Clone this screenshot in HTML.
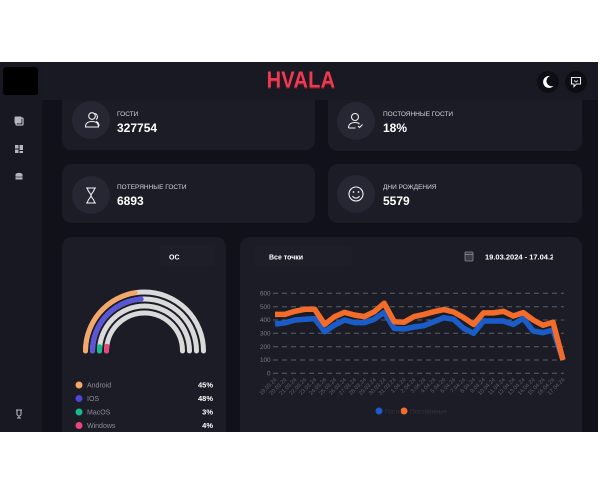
<!DOCTYPE html>
<html><head><meta charset="utf-8"><style>
html,body{margin:0;padding:0;background:#fff;width:600px;height:482px;overflow:hidden}
svg{display:block}
text{font-family:"Liberation Sans","Noto Sans CJK SC",sans-serif}
</style></head><body>
<svg width="600" height="482" viewBox="0 0 600 482" xmlns="http://www.w3.org/2000/svg">
<defs><clipPath id="dash"><rect x="0" y="62" width="598" height="370"/></clipPath></defs>
<rect x="0" y="0" width="600" height="482" fill="#ffffff"/>
<g clip-path="url(#dash)">
<rect x="0" y="62" width="598" height="370" fill="#111219"/>
<!-- cards -->
<rect x="62" y="86" width="253" height="64" rx="10" fill="#1b1c26"/>
<rect x="328" y="86" width="254" height="65" rx="10" fill="#1b1c26"/>
<rect x="62" y="164" width="253" height="59" rx="10" fill="#1b1c26"/>
<rect x="328" y="164" width="254" height="59" rx="10" fill="#1b1c26"/>
<rect x="62" y="237" width="164" height="210" rx="10" fill="#1b1c26"/>
<rect x="240" y="237" width="342" height="210" rx="10" fill="#1b1c26"/>
<!-- header & sidebar -->
<rect x="0" y="62" width="598" height="38" fill="#181922"/>
<rect x="0" y="62" width="42" height="370" fill="#171821"/>
<rect x="3" y="67" width="35" height="28" rx="3" fill="#000"/>
<text x="301" y="87" text-anchor="middle" font-size="20" font-weight="bold" fill="#5a1822" transform="translate(0,-13) scale(1,1.17)" letter-spacing="0.3">HVALA</text>
<text x="301" y="86" text-anchor="middle" font-size="20" font-weight="bold" fill="#ee3a50" transform="translate(0,-13) scale(1,1.17)" letter-spacing="0.3">HVALA</text>
<circle cx="548" cy="82" r="11" fill="#0d0e14"/>
<path d="M550 76 A6 6 0 1 0 553.5 86 A5 5 0 0 1 550 76 Z" fill="#ffffff"/>
<circle cx="576" cy="82" r="11" fill="#0d0e14"/>
<path d="M571.5 77.5 h9 v6.5 h-4 l-2.5 2.5 v-2.5 h-2.5 z" fill="none" stroke="#e8e8ee" stroke-width="1.1"/>
<path d="M574 80.5 l2 1.5 l2-1.5" fill="none" stroke="#e8e8ee" stroke-width="0.9"/>
<!-- sidebar icons -->
<rect x="16" y="118" width="7" height="7" rx="1" fill="none" stroke="#b4b5bd" stroke-width="1.3"/>
<rect x="14.5" y="116.5" width="7" height="7" rx="1" fill="#b4b5bd"/>
<rect x="15" y="145" width="3.5" height="3.5" fill="#b4b5bd"/><rect x="19.5" y="145" width="3.5" height="5" fill="#b4b5bd"/>
<rect x="15" y="149.5" width="3.5" height="3.5" fill="#b4b5bd"/><rect x="19.5" y="151" width="3.5" height="2" fill="#b4b5bd"/>
<ellipse cx="19" cy="174.5" rx="3.5" ry="1.6" fill="#b4b5bd"/><rect x="15.5" y="174.5" width="7" height="5" fill="#b4b5bd"/>
<line x1="15.5" y1="177" x2="22.5" y2="177" stroke="#171821" stroke-width="0.6"/>
<path d="M16 410 h6 M17 410 v4 a2 2 0 0 0 4 0 v-4 M19 416 v2 M17 418 h4" fill="none" stroke="#b4b5bd" stroke-width="1.1"/>
<!-- stat icons -->
<circle cx="91" cy="120" r="19" fill="#262733"/>
<circle cx="356" cy="121" r="19" fill="#262733"/>
<circle cx="91" cy="195" r="19" fill="#262733"/>
<circle cx="356" cy="194" r="19" fill="#262733"/>
<g fill="none" stroke="#f0f0f4" stroke-width="1.1">
<circle cx="92" cy="116" r="3.3"/><path d="M85.5 127 c0-4 3-5.5 6.5-5.5 s6.5 1.5 6.5 5.5 z"/>
<path d="M94 113.5 a3.3 3.3 0 0 1 2 6 M96 121.5 c2 .5 3 2 3 4.5"/>
<circle cx="355" cy="117" r="3.5"/><path d="M348.5 128 c0-4 3-5.5 6.5-5.5 c2 0 3.5 .5 4.5 1.5 M348.5 128 h7"/>
<path d="M358 126 l1.5 1.5 l3-3"/>
<path d="M86 188 h10 M86 203 h10 M87.5 188 c0 4 3.5 5 3.5 7.5 c0 2.5-3.5 3.5-3.5 7.5 M94.5 188 c0 4-3.5 5-3.5 7.5 c0 2.5 3.5 3.5 3.5 7.5"/>
<circle cx="356" cy="194" r="7"/><path d="M352.5 196 a4 4 0 0 0 7 0"/>
</g>
<circle cx="353.5" cy="192" r="0.9" fill="#f0f0f4"/><circle cx="358.5" cy="192" r="0.9" fill="#f0f0f4"/>
<!-- stat text -->
<g fill="#d4d4dc" font-size="6.5">
<text x="117" y="116">ГОСТИ</text>
<text x="383" y="116">ПОСТОЯННЫЕ ГОСТИ</text>
<text x="117" y="189">ПОТЕРЯННЫЕ ГОСТИ</text>
<text x="383" y="189">ДНИ РОЖДЕНИЯ</text>
</g>
<g fill="#ffffff" font-size="12" font-weight="bold">
<text x="117" y="132">327754</text>
<text x="383" y="132">18%</text>
<text x="117" y="205">6893</text>
<text x="383" y="205">5579</text>
</g>
<!-- OS card -->
<rect x="160" y="245" width="55" height="21" rx="3" fill="#1d1e28"/>
<text x="169" y="259.5" font-size="7" font-weight="bold" fill="#ffffff">ОС</text>
<g fill="none" stroke-width="5" stroke-linecap="round">
<path d="M85.5 351 A59 59 0 0 1 203.5 351" stroke="#dadada"/>
<path d="M92.5 351 A52 52 0 0 1 196.5 351" stroke="#dadada"/>
<path d="M99.5 351 A45 45 0 0 1 189.5 351" stroke="#dadada"/>
<path d="M106.5 351 A38 38 0 0 1 182.5 351" stroke="#dadada"/>
<path d="M85.5 351 A59 59 0 0 1 135.3 292.7" stroke="#f4a766"/>
<path d="M92.5 351 A52 52 0 0 1 141.2 299.1" stroke="#5a56d8"/>
<path d="M99.5 351 A45 45 0 0 1 99.7 346.8" stroke="#19b98a"/>
<path d="M106.5 351 A38 38 0 0 1 106.8 346.2" stroke="#e8477c"/>
</g>
<circle cx="79" cy="385" r="3.5" fill="#f4a766"/>
<circle cx="79" cy="398.5" r="3.5" fill="#4d46d8"/>
<circle cx="79" cy="412" r="3.5" fill="#19b98a"/>
<circle cx="79" cy="425.5" r="3.5" fill="#e8477c"/>
<g font-size="7" fill="#8d8e9a">
<text x="87" y="387.5">Android</text>
<text x="87" y="401">IOS</text>
<text x="87" y="414.5">MacOS</text>
<text x="87" y="428">Windows</text>
</g>
<g font-size="7.5" font-weight="bold" fill="#ffffff" text-anchor="end">
<text x="213" y="387.5">45%</text>
<text x="213" y="401">48%</text>
<text x="213" y="414.5">3%</text>
<text x="213" y="428">4%</text>
</g>
<!-- chart card header -->
<rect x="255" y="246" width="97" height="20" rx="3" fill="#1d1e28"/>
<text x="269" y="259.5" font-size="7" font-weight="bold" fill="#ffffff">Все точки</text>
<rect x="465" y="252" width="8" height="9" rx="1" fill="#3a3b46" stroke="#8a8b96" stroke-width="0.8"/>
<line x1="465" y1="254.5" x2="473" y2="254.5" stroke="#8a8b96" stroke-width="0.8"/>
<svg x="480" y="250" width="73" height="14"><text x="5" y="9.5" font-size="7.5" font-weight="bold" fill="#ffffff">19.03.2024 - 17.04.2024</text></svg>
<!-- grid -->
<g stroke="#5b5c68" stroke-width="1" stroke-dasharray="5 4">
<line x1="273" y1="293.3" x2="564" y2="293.3"/>
<line x1="273" y1="306.7" x2="564" y2="306.7"/>
<line x1="273" y1="320" x2="564" y2="320"/>
<line x1="273" y1="333.3" x2="564" y2="333.3"/>
<line x1="273" y1="346.7" x2="564" y2="346.7"/>
<line x1="273" y1="360" x2="564" y2="360"/>
<line x1="273" y1="373.3" x2="564" y2="373.3"/>
</g>
<g font-size="6.3" fill="#7b7c88" text-anchor="end">
<text x="270.5" y="295.5">600</text>
<text x="270.5" y="308.9">500</text>
<text x="270.5" y="322.2">400</text>
<text x="270.5" y="335.5">300</text>
<text x="270.5" y="348.9">200</text>
<text x="270.5" y="362.2">100</text>
<text x="270.5" y="375.5">0</text>
</g>
<polyline fill="none" stroke="#1b5dc8" stroke-width="5.5" stroke-linejoin="round" points="275,324 284.9,322.9 294.9,320 304.8,319.3 314.7,318.6 324.7,331.7 334.6,325 344.5,320 354.4,322.6 364.4,322.6 374.3,319.3 384.2,312.4 394.2,328.4 404.1,329 414,327 424,325.7 433.9,321.7 443.8,317.7 453.7,319.3 463.7,328.4 473.6,333.3 483.5,321 493.5,321 503.4,321 513.3,324.4 523.3,318.4 533.2,331 543.1,332.6 553,330 563,360"/>
<polyline fill="none" stroke="#f46c2a" stroke-width="5.5" stroke-linejoin="round" points="275,314.4 284.9,314.4 294.9,311.3 304.8,309.3 314.7,309.3 324.7,324.4 334.6,316.6 344.5,312.4 354.4,315 364.4,316.6 374.3,311.7 384.2,303.3 394.2,321.7 404.1,322.2 414,316.6 424,314.4 433.9,311.7 443.8,309.6 453.7,312 463.7,317.6 473.6,324.4 483.5,312.9 493.5,312.9 503.4,311.3 513.3,316 523.3,312.6 533.2,320 543.1,325.3 553,322.2 563,360"/>
<g font-size="5.6" fill="#5f606c" text-anchor="end">
<text transform="translate(277,380) rotate(-45)">19.03.24</text>
<text transform="translate(286.9,380) rotate(-45)">20.03.24</text>
<text transform="translate(296.9,380) rotate(-45)">21.03.24</text>
<text transform="translate(306.8,380) rotate(-45)">22.03.24</text>
<text transform="translate(316.7,380) rotate(-45)">23.03.24</text>
<text transform="translate(326.7,380) rotate(-45)">24.03.24</text>
<text transform="translate(336.6,380) rotate(-45)">25.03.24</text>
<text transform="translate(346.5,380) rotate(-45)">26.03.24</text>
<text transform="translate(356.4,380) rotate(-45)">27.03.24</text>
<text transform="translate(366.4,380) rotate(-45)">28.03.24</text>
<text transform="translate(376.3,380) rotate(-45)">29.03.24</text>
<text transform="translate(386.2,380) rotate(-45)">30.03.24</text>
<text transform="translate(396.2,380) rotate(-45)">31.03.24</text>
<text transform="translate(406.1,380) rotate(-45)">1.04.24</text>
<text transform="translate(416,380) rotate(-45)">2.04.24</text>
<text transform="translate(426,380) rotate(-45)">3.04.24</text>
<text transform="translate(435.9,380) rotate(-45)">4.04.24</text>
<text transform="translate(445.8,380) rotate(-45)">5.04.24</text>
<text transform="translate(455.7,380) rotate(-45)">6.04.24</text>
<text transform="translate(465.7,380) rotate(-45)">7.04.24</text>
<text transform="translate(475.6,380) rotate(-45)">8.04.24</text>
<text transform="translate(485.5,380) rotate(-45)">9.04.24</text>
<text transform="translate(495.5,380) rotate(-45)">10.04.24</text>
<text transform="translate(505.4,380) rotate(-45)">11.04.24</text>
<text transform="translate(515.3,380) rotate(-45)">12.04.24</text>
<text transform="translate(525.3,380) rotate(-45)">13.04.24</text>
<text transform="translate(535.2,380) rotate(-45)">14.04.24</text>
<text transform="translate(545.1,380) rotate(-45)">15.04.24</text>
<text transform="translate(555,380) rotate(-45)">16.04.24</text>
<text transform="translate(565,380) rotate(-45)">17.04.24</text>
</g>
<circle cx="379" cy="411" r="3.5" fill="#1b5dc8"/>
<circle cx="404" cy="411" r="3.5" fill="#f46c2a"/>
<g font-size="6.5" fill="#33343f">
<text x="385" y="413.3">Гости</text>
<text x="410" y="413.3">Постоянные</text>
</g>
</g>
</svg>
</body></html>
